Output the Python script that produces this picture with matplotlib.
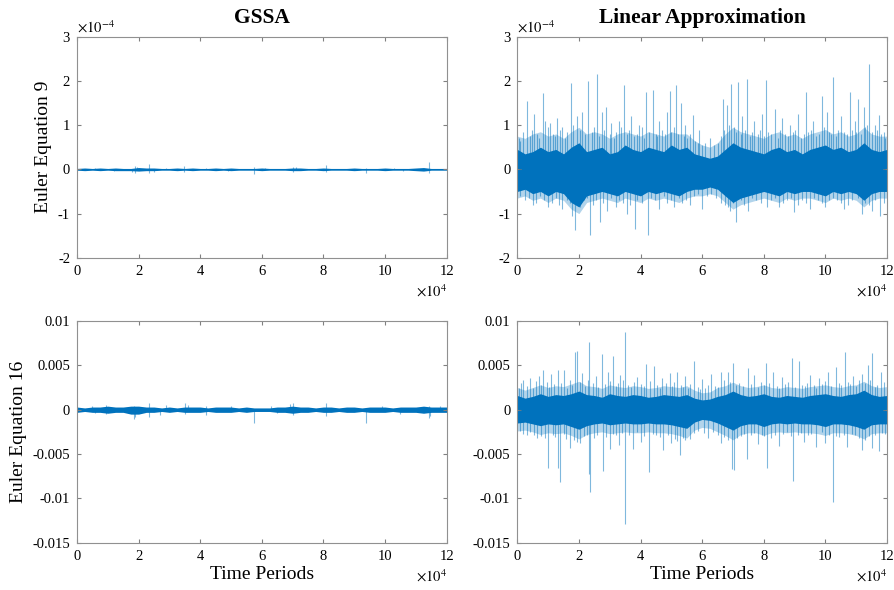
import numpy as np
import matplotlib.pyplot as plt
from matplotlib.ticker import FuncFormatter

plt.rcParams['font.family'] = ['Liberation Serif', 'DejaVu Serif']
plt.rcParams['mathtext.fontset'] = 'stix'
plt.rcParams['axes.unicode_minus'] = False

BLUE = '#0072BD'

# envelope sample points (x in units of 1e4 periods), every 2500 periods
env_x = [i * 0.25 for i in range(49)]

# ---- Euler eq 9, GSSA (y in 1e-4)
g9_hi = [0.02, 0.03, 0.02, 0.03, 0.02, 0.03, 0.02, 0.02, 0.04, 0.03, 0.03, 0.02, 0.02, 0.03, 0.02, 0.03,
         0.02, 0.02, 0.03, 0.02, 0.03, 0.02, 0.02, 0.02, 0.03, 0.02, 0.02, 0.02, 0.03, 0.03, 0.02, 0.02,
         0.03, 0.02, 0.02, 0.02, 0.03, 0.02, 0.02, 0.02, 0.03, 0.02, 0.02, 0.02, 0.03, 0.04, 0.02, 0.02, 0.02]
g9_lo = [-0.02, -0.03, -0.02, -0.03, -0.02, -0.03, -0.03, -0.03, -0.04, -0.03, -0.03, -0.02, -0.02, -0.03, -0.02, -0.03,
         -0.02, -0.02, -0.03, -0.02, -0.03, -0.02, -0.02, -0.02, -0.03, -0.02, -0.02, -0.02, -0.03, -0.03, -0.02, -0.02,
         -0.03, -0.02, -0.02, -0.02, -0.03, -0.02, -0.02, -0.02, -0.03, -0.02, -0.02, -0.02, -0.03, -0.04, -0.02, -0.02, -0.02]
g9_up_x = [1.88, 2.34, 3.47, 5.74, 7.0, 8.07, 9.37, 11.42, 0.6, 4.2, 6.1, 10.3, 1.95, 2.9, 7.1]
g9_up_y = [0.08, 0.11, 0.08, 0.05, 0.05, 0.09, 0.03, 0.17, 0.04, 0.04, 0.03, 0.04, 0.05, 0.04, 0.05]
g9_dn_x = [1.88, 2.34, 3.47, 5.74, 7.0, 8.07, 9.37, 11.42, 1.2, 4.9, 10.6, 1.8, 2.5]
g9_dn_y = [-0.09, -0.08, -0.05, -0.1, -0.06, -0.05, -0.09, -0.08, -0.04, -0.04, -0.04, -0.06, -0.05]

# ---- Euler eq 9, linear approximation (y in 1e-4)
l9_core_hi = [0.45, 0.35, 0.4, 0.5, 0.4, 0.45, 0.35, 0.5, 0.6, 0.4, 0.45, 0.5, 0.35, 0.4, 0.55, 0.45,
              0.4, 0.5, 0.45, 0.4, 0.55, 0.45, 0.5, 0.35, 0.3, 0.25, 0.3, 0.45, 0.6, 0.5, 0.45, 0.4,
              0.35, 0.45, 0.5, 0.4, 0.45, 0.35, 0.45, 0.5, 0.55, 0.45, 0.5, 0.4, 0.45, 0.6, 0.45, 0.4, 0.45]
l9_core_lo = [-0.5, -0.45, -0.55, -0.5, -0.6, -0.5, -0.55, -0.75, -0.85, -0.6, -0.55, -0.5, -0.55, -0.6, -0.5, -0.55,
              -0.6, -0.5, -0.55, -0.5, -0.55, -0.6, -0.5, -0.45, -0.45, -0.4, -0.45, -0.6, -0.75, -0.65, -0.6, -0.55,
              -0.5, -0.55, -0.6, -0.5, -0.55, -0.5, -0.5, -0.55, -0.6, -0.5, -0.55, -0.5, -0.55, -0.7, -0.55, -0.5, -0.5]
l9_out_hi = [0.75, 0.7, 0.8, 0.85, 0.75, 0.8, 0.7, 0.85, 0.95, 0.8, 0.85, 0.8, 0.7, 0.8, 0.85, 0.8,
             0.75, 0.85, 0.8, 0.75, 0.85, 0.8, 0.8, 0.65, 0.55, 0.5, 0.6, 0.8, 0.95, 0.85, 0.8, 0.75,
             0.7, 0.8, 0.85, 0.75, 0.8, 0.7, 0.8, 0.85, 0.9, 0.8, 0.85, 0.75, 0.8, 0.95, 0.8, 0.75, 0.75]
l9_out_lo = [-0.65, -0.6, -0.7, -0.65, -0.75, -0.65, -0.7, -0.9, -1.0, -0.75, -0.7, -0.65, -0.7, -0.75, -0.65, -0.7,
             -0.75, -0.65, -0.7, -0.65, -0.7, -0.75, -0.65, -0.6, -0.6, -0.55, -0.6, -0.75, -0.9, -0.8, -0.75, -0.7,
             -0.65, -0.7, -0.75, -0.65, -0.7, -0.65, -0.65, -0.7, -0.75, -0.65, -0.7, -0.65, -0.7, -0.85, -0.7, -0.65, -0.65]
l9_up_x = [0.30, 0.82, 1.75, 2.31, 2.58, 2.89, 3.47, 4.18, 4.40, 4.97, 5.15, 5.33, 5.69, 6.67, 6.95, 7.17, 7.47, 8.08, 8.37, 9.38, 9.90, 10.24, 10.79, 11.07, 11.42, 11.75,
           0.1, 0.55, 0.9, 1.05, 1.3, 1.45, 1.95, 2.1, 2.75, 3.05, 3.3, 3.7, 3.95, 4.6, 4.85, 5.45, 5.9, 6.25, 6.8, 7.3, 7.7, 7.95, 8.6, 8.85, 9.1, 9.6, 10.05, 10.5, 10.95, 11.25, 11.6, 11.9,
           0.05, 0.2, 0.4, 0.48, 0.65, 0.72, 1.0, 1.15, 1.22, 1.38, 1.55, 1.62, 1.82, 2.02, 2.2, 2.42, 2.5, 2.65, 2.82, 3.0, 3.15, 3.22, 3.38, 3.55, 3.62, 3.8, 3.88, 4.05, 4.1, 4.28, 4.5, 4.55, 4.7, 4.78, 5.0, 5.08, 5.22, 5.4, 5.52, 5.6, 5.78, 5.85, 6.0, 6.1, 6.4, 6.5, 6.6, 6.72, 6.88, 7.02, 7.1, 7.25, 7.38, 7.55, 7.62, 7.8, 7.88, 8.02, 8.15, 8.25, 8.45, 8.52, 8.7, 8.78, 8.95, 9.02, 9.2, 9.3, 9.45, 9.52, 9.7, 9.78, 9.95, 10.12, 10.2, 10.35, 10.42, 10.6, 10.7, 10.85, 11.0, 11.15, 11.3, 11.35, 11.5, 11.68, 11.82, 11.95]
l9_up_y = [1.55, 1.73, 1.95, 2.0, 2.15, 1.4, 1.9, 1.75, 1.8, 1.78, 1.9, 1.5, 1.22, 1.6, 1.92, 1.97, 2.04, 2.03, 1.36, 1.75, 1.65, 2.09, 1.75, 1.58, 2.38, 1.22,
           0.65, 1.25, 1.1, 1.05, 1.15, 0.95, 1.2, 1.3, 1.3, 1.05, 1.1, 1.2, 1.0, 1.1, 1.3, 1.0, 0.9, 0.7, 1.45, 1.2, 1.1, 1.25, 1.15, 1.0, 1.25, 1.1, 1.3, 1.2, 1.1, 1.4, 1.0, 0.85,
           0.7, 0.85, 0.75, 0.9, 0.8, 0.7, 0.95, 0.8, 0.75, 0.9, 0.7, 0.85, 1.0, 0.9, 0.8, 0.85, 0.95, 0.75, 0.9, 0.8, 0.7, 0.85, 0.95, 0.8, 0.9, 0.75, 0.8, 0.95, 0.7, 0.85, 0.8, 0.75, 0.9, 0.8, 0.85, 0.95, 0.8, 0.75, 0.7, 0.8, 0.65, 0.6, 0.55, 0.6, 0.55, 0.6, 0.75, 0.9, 1.0, 0.95, 0.85, 0.8, 0.9, 0.75, 0.85, 0.8, 0.9, 0.75, 0.85, 0.8, 0.7, 0.9, 0.8, 0.75, 0.85, 0.9, 0.7, 0.8, 0.85, 0.9, 0.75, 0.8, 0.95, 0.85, 0.8, 0.75, 0.9, 0.85, 0.8, 0.9, 0.85, 0.8, 0.95, 1.0, 0.85, 0.9, 0.8, 0.7]
l9_dn_x = [1.88, 2.36, 2.69, 3.81, 4.24, 3.56, 7.11, 6.92, 8.11, 8.98, 11.2, 11.78, 1.77,
           0.5, 1.0, 1.45, 2.9, 3.2, 4.6, 5.1, 5.6, 6.0, 6.6, 7.5, 8.5, 9.5, 10.0, 10.6, 11.5,
           0.1, 0.25, 0.38, 0.62, 0.75, 0.88, 1.12, 1.25, 1.35, 1.6, 1.7, 2.05, 2.15, 2.25, 2.45, 2.55, 2.78, 3.05, 3.3, 3.42, 3.65, 3.9, 4.05, 4.35, 4.48, 4.75, 4.85, 5.0, 5.25, 5.35, 5.48, 5.75, 5.85, 6.15, 6.3, 6.45, 6.75, 6.85, 7.0, 7.25, 7.35, 7.62, 7.75, 7.9, 8.25, 8.38, 8.62, 8.75, 8.88, 9.1, 9.25, 9.38, 9.62, 9.75, 9.88, 10.12, 10.25, 10.38, 10.5, 10.75, 10.88, 11.05, 11.3, 11.42, 11.62, 11.9]
l9_dn_y = [-1.38, -1.48, -1.2, -1.35, -1.48, -1.0, -1.2, -0.95, -0.85, -0.97, -1.0, -1.06, -1.05,
           -0.8, -0.85, -0.9, -0.95, -0.85, -0.9, -0.85, -0.8, -0.9, -0.75, -0.95, -0.85, -0.9, -0.85, -0.9, -0.95,
           -0.6, -0.7, -0.65, -0.75, -0.6, -0.7, -0.75, -0.65, -0.8, -0.7, -0.75, -0.85, -0.7, -0.65, -0.8, -0.7, -0.75, -0.65, -0.7, -0.75, -0.8, -0.7, -0.75, -0.65, -0.7, -0.6, -0.75, -0.7, -0.65, -0.75, -0.7, -0.6, -0.55, -0.6, -0.55, -0.65, -0.8, -0.85, -0.75, -0.7, -0.8, -0.65, -0.7, -0.75, -0.7, -0.65, -0.75, -0.7, -0.65, -0.8, -0.7, -0.75, -0.65, -0.7, -0.75, -0.7, -0.65, -0.7, -0.75, -0.8, -0.7, -0.65, -0.75, -0.8, -0.7, -0.75]

# ---- Euler eq 16, GSSA
g16_hi = [0.0003, 0.0002, 0.0003, 0.0003, 0.0004, 0.0003, 0.0003, 0.0004, 0.0004, 0.0003, 0.0003, 0.0002, 0.0003, 0.0002, 0.0003, 0.0003,
          0.0003, 0.0002, 0.0003, 0.0003, 0.0003, 0.0002, 0.0003, 0.0002, 0.0002, 0.0002, 0.0003, 0.0003, 0.0004, 0.0003, 0.0003, 0.0002,
          0.0003, 0.0003, 0.0002, 0.0003, 0.0003, 0.0002, 0.0003, 0.0003, 0.0003, 0.0002, 0.0003, 0.0003, 0.0003, 0.0004, 0.0003, 0.0003, 0.0003]
g16_lo = [-0.0003, -0.0002, -0.0003, -0.0003, -0.0004, -0.0003, -0.0003, -0.0005, -0.0005, -0.0003, -0.0003, -0.0002, -0.0003, -0.0002, -0.0003, -0.0003,
          -0.0003, -0.0002, -0.0003, -0.0003, -0.0003, -0.0002, -0.0003, -0.0002, -0.0002, -0.0002, -0.0003, -0.0003, -0.0004, -0.0003, -0.0003, -0.0002,
          -0.0003, -0.0003, -0.0002, -0.0003, -0.0003, -0.0002, -0.0003, -0.0003, -0.0003, -0.0002, -0.0003, -0.0003, -0.0003, -0.0004, -0.0003, -0.0003, -0.0003]
g16_up_x = [0.94, 1.85, 2.34, 3.5, 4.2, 7.0, 8.07, 11.42, 11.77, 0.5, 2.9, 5.0, 6.3, 9.9, 6.9, 3.6]
g16_up_y = [0.0005, 0.0004, 0.0008, 0.0008, 0.0004, 0.0008, 0.0008, 0.0004, 0.0004, 0.0004, 0.0005, 0.0004, 0.0004, 0.0004, 0.0006, 0.0005]
g16_dn_x = [0.94, 1.85, 2.34, 3.5, 4.2, 5.74, 7.0, 8.07, 9.37, 11.42, 0.6, 2.7, 6.5, 10.5, 1.9, 11.45]
g16_dn_y = [-0.0005, -0.001, -0.0008, -0.0005, -0.0006, -0.0015, -0.0006, -0.0007, -0.0015, -0.0009, -0.0004, -0.0006, -0.0004, -0.0005, -0.0008, -0.0007]

# ---- Euler eq 16, linear approximation
l16_core_hi = [0.0016, 0.0013, 0.0015, 0.0018, 0.0015, 0.0017, 0.0016, 0.0018, 0.0021, 0.0017, 0.0016, 0.0014, 0.0018, 0.0016, 0.0015, 0.0017,
               0.0016, 0.0014, 0.0015, 0.0017, 0.0016, 0.0015, 0.0017, 0.0013, 0.0011, 0.0012, 0.0015, 0.0017, 0.0021, 0.0017, 0.0015, 0.0016,
               0.0018, 0.0015, 0.0014, 0.0016, 0.0015, 0.0014, 0.0016, 0.0017, 0.0018, 0.0016, 0.0015, 0.0017, 0.0018, 0.0022, 0.0017, 0.0015, 0.0016]
l16_core_lo = [-0.0015, -0.0014, -0.0016, -0.0018, -0.0016, -0.0017, -0.0016, -0.0019, -0.0022, -0.0018, -0.0016, -0.0015, -0.0017, -0.0016, -0.0015, -0.0016,
               -0.0016, -0.0015, -0.0016, -0.0016, -0.0017, -0.0019, -0.0021, -0.0014, -0.0011, -0.0012, -0.0015, -0.0019, -0.0023, -0.0018, -0.0016, -0.0016,
               -0.0019, -0.0016, -0.0015, -0.0016, -0.0015, -0.0016, -0.0016, -0.0017, -0.0019, -0.0016, -0.0016, -0.0017, -0.0019, -0.0022, -0.0017, -0.0016, -0.0016]
l16_out_hi = [0.0025, 0.0022, 0.0025, 0.0028, 0.0025, 0.0027, 0.0026, 0.0029, 0.0032, 0.0027, 0.0026, 0.0024, 0.0028, 0.0026, 0.0025, 0.0027,
              0.0026, 0.0024, 0.0025, 0.0027, 0.0026, 0.0025, 0.0027, 0.0022, 0.0019, 0.002, 0.0025, 0.0027, 0.0031, 0.0027, 0.0025, 0.0026,
              0.0028, 0.0025, 0.0024, 0.0026, 0.0025, 0.0024, 0.0026, 0.0027, 0.0028, 0.0026, 0.0025, 0.0027, 0.0028, 0.0032, 0.0027, 0.0025, 0.0026]
l16_out_lo = [-0.0024, -0.0023, -0.0025, -0.0028, -0.0026, -0.0027, -0.0026, -0.0029, -0.0033, -0.0028, -0.0026, -0.0025, -0.0027, -0.0026, -0.0025, -0.0026,
              -0.0026, -0.0025, -0.0026, -0.0026, -0.0027, -0.0029, -0.0032, -0.0023, -0.002, -0.0021, -0.0025, -0.0029, -0.0034, -0.0028, -0.0026, -0.0026,
              -0.0029, -0.0026, -0.0025, -0.0026, -0.0025, -0.0026, -0.0026, -0.0027, -0.0029, -0.0026, -0.0026, -0.0027, -0.0029, -0.0033, -0.0027, -0.0026, -0.0026]
l16_up_x = [0.85, 1.33, 1.52, 1.88, 1.93, 2.34, 2.74, 3.12, 3.51, 4.19, 4.43, 5.18, 5.73, 6.62, 7.0, 7.48, 8.08, 8.93, 9.14, 10.34, 10.63, 11.51, 11.37,
            0.2, 0.4, 0.7, 1.1, 2.1, 2.55, 2.95, 3.35, 3.9, 4.7, 4.95, 5.45, 6.0, 6.3, 6.85, 7.7, 8.3, 8.6, 9.5, 9.8, 10.1, 10.9, 11.2, 11.8,
            0.05, 0.12, 0.3, 0.5, 0.6, 0.78, 0.95, 1.02, 1.2, 1.42, 1.6, 1.7, 1.78, 2.02, 2.2, 2.28, 2.45, 2.62, 2.85, 3.02, 3.2, 3.28, 3.42, 3.6, 3.7, 3.8, 4.02, 4.1, 4.3, 4.55, 4.62, 4.82, 5.02, 5.1, 5.3, 5.38, 5.55, 5.62, 5.85, 5.92, 6.1, 6.2, 6.42, 6.5, 6.72, 6.92, 7.1, 7.2, 7.32, 7.58, 7.8, 7.9, 8.0, 8.18, 8.42, 8.5, 8.7, 8.8, 9.02, 9.25, 9.35, 9.42, 9.62, 9.7, 9.9, 10.0, 10.2, 10.45, 10.52, 10.72, 10.8, 11.0, 11.1, 11.28, 11.45, 11.6, 11.68, 11.9]
l16_up_y = [0.0045, 0.0045, 0.0045, 0.0065, 0.0066, 0.0076, 0.0063, 0.006, 0.0087, 0.0052, 0.0049, 0.0042, 0.0055, 0.0043, 0.0053, 0.0047, 0.0053, 0.0058, 0.0055, 0.0048, 0.0065, 0.0064, 0.005,
            0.0034, 0.0036, 0.0038, 0.004, 0.0041, 0.0038, 0.0042, 0.0039, 0.0037, 0.0036, 0.0041, 0.0038, 0.0035, 0.004, 0.0043, 0.0039, 0.0042, 0.0037, 0.0039, 0.0036, 0.0042, 0.0038, 0.004, 0.0043,
            0.0025, 0.003, 0.0027, 0.0024, 0.0032, 0.0028, 0.0031, 0.0026, 0.0029, 0.003, 0.0025, 0.0033, 0.0028, 0.0031, 0.0027, 0.0034, 0.003, 0.0026, 0.0029, 0.0032, 0.0027, 0.003, 0.0033, 0.0028, 0.0026, 0.0031, 0.0029, 0.0027, 0.0032, 0.0028, 0.0025, 0.003, 0.0027, 0.0031, 0.0028, 0.0026, 0.0024, 0.0029, 0.0026, 0.0023, 0.0025, 0.0028, 0.0027, 0.0026, 0.0033, 0.0031, 0.0028, 0.003, 0.0027, 0.0029, 0.0026, 0.0031, 0.0028, 0.003, 0.0027, 0.0025, 0.0029, 0.0031, 0.0026, 0.0028, 0.0027, 0.003, 0.0028, 0.0025, 0.0029, 0.0032, 0.0027, 0.003, 0.0028, 0.0031, 0.0029, 0.0027, 0.0033, 0.003, 0.0034, 0.0026, 0.0028, 0.0031]
l16_dn_x = [1.01, 1.37, 1.31, 2.34, 2.36, 2.77, 3.51, 3.75, 4.26, 4.73, 5.29, 6.97, 7.03, 7.46, 8.11, 8.95, 10.24, 11.2, 11.75,
            0.3, 0.65, 1.7, 2.05, 3.0, 3.3, 4.0, 5.0, 5.6, 6.2, 6.6, 7.8, 8.5, 9.3, 9.7, 10.0, 10.7, 11.5,
            0.1, 0.18, 0.42, 0.55, 0.78, 0.9, 1.15, 1.22, 1.5, 1.58, 1.85, 1.95, 2.15, 2.25, 2.5, 2.6, 2.88, 3.12, 3.2, 3.4, 3.62, 3.88, 4.12, 4.4, 4.5, 4.62, 4.88, 5.12, 5.2, 5.38, 5.45, 5.75, 5.88, 6.05, 6.35, 6.5, 6.72, 6.85, 7.12, 7.25, 7.35, 7.6, 7.7, 7.95, 8.02, 8.25, 8.38, 8.62, 8.75, 8.88, 9.12, 9.2, 9.45, 9.55, 9.88, 10.12, 10.35, 10.45, 10.6, 10.85, 10.95, 11.1, 11.3, 11.42, 11.62, 11.85, 11.95]
l16_dn_y = [-0.0066, -0.0081, -0.0066, -0.0072, -0.0093, -0.0069, -0.0129, -0.0044, -0.007, -0.0045, -0.0051, -0.0067, -0.0068, -0.0055, -0.0066, -0.008, -0.0104, -0.0045, -0.0047,
            -0.0028, -0.0032, -0.0043, -0.0038, -0.0044, -0.004, -0.0036, -0.0038, -0.0033, -0.0032, -0.0037, -0.0039, -0.0041, -0.0036, -0.0042, -0.0038, -0.0042, -0.0043,
            -0.0024, -0.0027, -0.0025, -0.0028, -0.003, -0.0032, -0.0029, -0.0031, -0.0027, -0.0033, -0.0034, -0.0036, -0.003, -0.0028, -0.0032, -0.0029, -0.0031, -0.0027, -0.0029, -0.0026, -0.0028, -0.0025, -0.003, -0.0027, -0.0029, -0.0031, -0.0028, -0.0033, -0.0035, -0.0032, -0.0034, -0.0026, -0.0024, -0.0026, -0.0025, -0.0028, -0.0031, -0.0034, -0.0032, -0.003, -0.0027, -0.0029, -0.0026, -0.0028, -0.003, -0.0032, -0.0029, -0.0027, -0.0025, -0.003, -0.0028, -0.0026, -0.0029, -0.0027, -0.0025, -0.0028, -0.003, -0.0031, -0.0029, -0.0027, -0.0029, -0.0032, -0.0034, -0.003, -0.0028, -0.0026, -0.0027]

xs = np.array(env_x) * 1e4


def panel(ax, lo, hi, up_x, up_y, dn_x, dn_y, ys=1.0, lw=0.8, out_lo=None, out_hi=None):
    if out_lo is not None:
        ax.fill_between(xs, np.array(out_lo) * ys, np.array(out_hi) * ys, color=BLUE, alpha=0.3, lw=0)
    ax.vlines(np.array(up_x) * 1e4, 0, np.array(up_y) * ys, color=BLUE, alpha=0.5, lw=lw)
    ax.vlines(np.array(dn_x) * 1e4, np.array(dn_y) * ys, 0, color=BLUE, alpha=0.5, lw=lw)
    ax.fill_between(xs, np.array(lo) * ys, np.array(hi) * ys, color=BLUE, lw=0)


def style(ax):
    ax.set_xlim(0, 120000)
    ax.set_xticks(np.arange(0, 120001, 20000))
    ax.xaxis.set_major_formatter(FuncFormatter(lambda v, p: '%g' % (v / 1e4)))
    ax.tick_params(direction='in', top=True, right=True, labelsize=10.5, length=3, color='#808080', pad=5)
    for s in ax.spines.values():
        s.set_color('#909090')
        s.set_linewidth(0.8)
    ax.text(1.0, -0.115, r'$\times10^{4}$', transform=ax.transAxes, ha='right', va='top', fontsize=10.5)


fig = plt.figure(figsize=(8.95, 5.9), dpi=100)
ax1 = fig.add_axes([0.086, 0.563, 0.413, 0.375])
ax2 = fig.add_axes([0.578, 0.563, 0.413, 0.375])
ax3 = fig.add_axes([0.086, 0.080, 0.413, 0.376])
ax4 = fig.add_axes([0.578, 0.080, 0.413, 0.376])

panel(ax1, g9_lo, g9_hi, g9_up_x, g9_up_y, g9_dn_x, g9_dn_y, ys=1e-4)
panel(ax2, l9_core_lo, l9_core_hi, l9_up_x, l9_up_y, l9_dn_x, l9_dn_y, ys=1e-4, out_lo=l9_out_lo, out_hi=l9_out_hi)
panel(ax3, g16_lo, g16_hi, g16_up_x, g16_up_y, g16_dn_x, g16_dn_y)
panel(ax4, l16_core_lo, l16_core_hi, l16_up_x, l16_up_y, l16_dn_x, l16_dn_y, out_lo=l16_out_lo, out_hi=l16_out_hi)

for ax in (ax1, ax2):
    style(ax)
    ax.set_ylim(-2e-4, 3e-4)
    ax.set_yticks(np.arange(-2, 4) * 1e-4)
    ax.yaxis.set_major_formatter(FuncFormatter(lambda v, p: '%g' % round(v * 1e4, 3)))
    ax.text(0.0, 1.005, r'$\times10^{\mathsf{-}4}$', transform=ax.transAxes, ha='left', va='bottom', fontsize=10.5)

for ax in (ax3, ax4):
    style(ax)
    ax.set_ylim(-0.015, 0.01)
    ax.set_yticks([-0.015, -0.01, -0.005, 0, 0.005, 0.01])
    ax.yaxis.set_major_formatter(FuncFormatter(lambda v, p: '%g' % round(v, 4)))
    ax.set_xlabel('Time Periods', fontsize=14, labelpad=2)

ax1.set_title('GSSA', fontsize=15.5, fontweight='bold', pad=10)
ax2.set_title('Linear Approximation', fontsize=15.5, fontweight='bold', pad=10)
ax1.set_ylabel('Euler Equation 9', fontsize=14)
ax3.set_ylabel('Euler Equation 16', fontsize=14)

fig.savefig('out.png', dpi=100)
